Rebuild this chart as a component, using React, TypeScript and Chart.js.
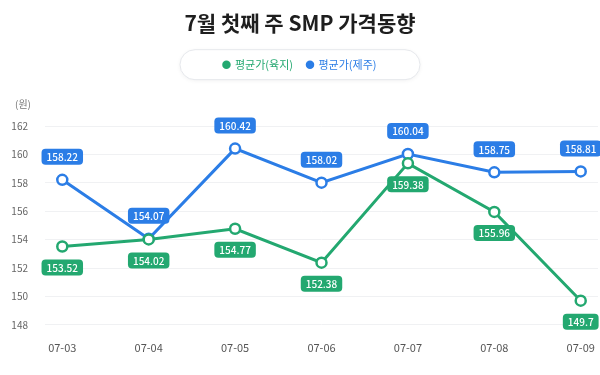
import { useEffect, useRef } from "react";
import { Chart, registerables } from "chart.js";

Chart.register(...registerables);

const titleText = "7월 첫째 주 SMP 가격동향";
const unitLabel = "(원)";
const categories = ["07-03", "07-04", "07-05", "07-06", "07-07", "07-08", "07-09"];
const seriesNames = ["평균가(육지)", "평균가(제주)"];
const mainland = [153.52, 154.02, 154.77, 152.38, 159.38, 155.96, 149.7];
const jeju = [158.22, 154.07, 160.42, 158.02, 160.04, 158.75, 158.81];
const yMin = 148;
const yMax = 162;
const yStep = 2;

const GREEN = "#23a870";
const BLUE = "#2b7de6";
const FONT = "'Noto Sans CJK KR', 'Noto Sans', sans-serif";

function roundRect(ctx: CanvasRenderingContext2D, x: number, y: number, w: number, h: number, r: number) {
  ctx.beginPath();
  ctx.moveTo(x + r, y);
  ctx.lineTo(x + w - r, y);
  ctx.arcTo(x + w, y, x + w, y + r, r);
  ctx.lineTo(x + w, y + h - r);
  ctx.arcTo(x + w, y + h, x + w - r, y + h, r);
  ctx.lineTo(x + r, y + h);
  ctx.arcTo(x, y + h, x, y + h - r, r);
  ctx.lineTo(x, y + r);
  ctx.arcTo(x, y, x + r, y, r);
  ctx.closePath();
}

const extrasPlugin = {
  id: "extras",
  beforeLayout(chart: any) {
    const legend = chart.legend;
    if (legend && !legend.__patched) {
      const orig = legend.fit.bind(legend);
      legend.fit = function () {
        orig();
        this.height += 46;
      };
      legend.__patched = true;
    }
  },
  beforeDraw(chart: any) {
    const ctx = chart.ctx as CanvasRenderingContext2D;
    const legend = chart.legend;
    if (legend && legend.legendHitBoxes && legend.legendHitBoxes.length) {
      const hb = legend.legendHitBoxes[0];
      const cy = hb.top + hb.height / 2;
      const w = 240;
      const h = 30;
      const x = chart.width / 2 - w / 2;
      ctx.save();
      ctx.shadowColor = "rgba(0,0,0,0.06)";
      ctx.shadowBlur = 4;
      ctx.shadowOffsetY = 1;
      roundRect(ctx, x, cy - h / 2, w, h, 15);
      ctx.fillStyle = "#ffffff";
      ctx.fill();
      ctx.shadowColor = "transparent";
      ctx.strokeStyle = "#e6e8ec";
      ctx.lineWidth = 1;
      ctx.stroke();
      ctx.restore();
    }
  },
  afterDatasetsDraw(chart: any) {
    const ctx = chart.ctx as CanvasRenderingContext2D;
    const area = chart.chartArea;
    ctx.save();
    ctx.font = `400 10px ${FONT}`;
    ctx.fillStyle = "#777";
    ctx.textAlign = "left";
    ctx.textBaseline = "middle";
    ctx.fillText(unitLabel, 15, area.top - 22);
    chart.data.datasets.forEach((ds: any, di: number) => {
      const meta = chart.getDatasetMeta(di);
      const above = di === 1;
      meta.data.forEach((pt: any, i: number) => {
        const v = ds.data[i].y;
        const text = String(v);
        ctx.font = `500 10px ${FONT}`;
        const w = ctx.measureText(text).width + 10;
        const h = 16;
        const cy = above ? pt.y - 23 : pt.y + 21;
        roundRect(ctx, pt.x - w / 2, cy - h / 2, w, h, 4);
        ctx.fillStyle = ds.borderColor;
        ctx.fill();
        ctx.fillStyle = "#ffffff";
        ctx.textAlign = "center";
        ctx.textBaseline = "middle";
        ctx.fillText(text, pt.x, cy + 0.5);
      });
    });
    ctx.restore();
  },
};

export default function App() {
  const ref = useRef<HTMLCanvasElement>(null);
  useEffect(() => {
    if (!ref.current) return;
    const mk = (vals: number[]) => vals.map((y, i) => ({ x: i, y }));
    const chart = new Chart(ref.current, {
      type: "line",
      data: {
        datasets: [
          {
            label: seriesNames[0],
            data: mk(mainland),
            borderColor: GREEN,
            backgroundColor: GREEN,
            borderWidth: 3,
            pointRadius: 5,
            pointBorderWidth: 2.5,
            pointBackgroundColor: "#ffffff",
            pointBorderColor: GREEN,
            tension: 0,
          },
          {
            label: seriesNames[1],
            data: mk(jeju),
            borderColor: BLUE,
            backgroundColor: BLUE,
            borderWidth: 3,
            pointRadius: 5,
            pointBorderWidth: 2.5,
            pointBackgroundColor: "#ffffff",
            pointBorderColor: BLUE,
            tension: 0,
          },
        ],
      },
      options: {
        animation: false,
        responsive: true,
        maintainAspectRatio: false,
        layout: { autoPadding: false, padding: { left: 2, right: 2, top: 0, bottom: 21 } },
        plugins: {
          title: {
            display: true,
            text: titleText,
            color: "#1e1e1e",
            font: { family: FONT, size: 21, weight: "bold", lineHeight: 1.2 },
            padding: { top: 10, bottom: 10 },
          },
          legend: {
            display: true,
            position: "top",
            labels: {
              usePointStyle: true,
              pointStyle: "circle",
              boxWidth: 6,
              boxHeight: 6,
              padding: 14,
              font: { family: FONT, size: 11 },
              generateLabels: (c: any) =>
                c.data.datasets.map((ds: any, i: number) => ({
                  text: ds.label,
                  fillStyle: ds.borderColor,
                  strokeStyle: ds.borderColor,
                  fontColor: ds.borderColor,
                  lineWidth: 0,
                  pointStyle: "circle",
                  hidden: false,
                  datasetIndex: i,
                })),
            },
          },
          tooltip: { enabled: false },
        },
        scales: {
          x: {
            type: "linear",
            min: -0.2,
            max: categories.length - 1 + 0.2,
            afterBuildTicks: (scale: any) => {
              scale.ticks = categories.map((_, i) => ({ value: i }));
            },
            afterFit: (scale: any) => {
              scale.paddingLeft = 0;
              scale.paddingRight = 0;
            },
            ticks: {
              callback: (v: any) => categories[v] ?? "",
              color: "#555",
              font: { family: FONT, size: 11 },
              padding: 0,
              maxRotation: 0,
              autoSkip: false,
            },
            grid: { display: true, color: "transparent", drawTicks: true, tickLength: 16, tickColor: "transparent" },
            border: { display: false },
          },
          y: {
            min: yMin,
            max: yMax,
            afterFit: (scale: any) => {
              scale.width = 43;
            },
            ticks: {
              stepSize: yStep,
              color: "#666",
              font: { family: FONT, size: 10 },
              padding: 0,
            },
            grid: { color: "#f0f1f3", drawTicks: true, tickLength: 17, tickColor: "transparent", lineWidth: 1 },
            border: { display: false },
          },
        },
      },
      plugins: [extrasPlugin],
    });
    return () => chart.destroy();
  }, []);
  return (
    <div style={{ position: "fixed", left: 0, top: 0, width: 600, height: 375, background: "#fff" }}>
      <canvas ref={ref} />
    </div>
  );
}
